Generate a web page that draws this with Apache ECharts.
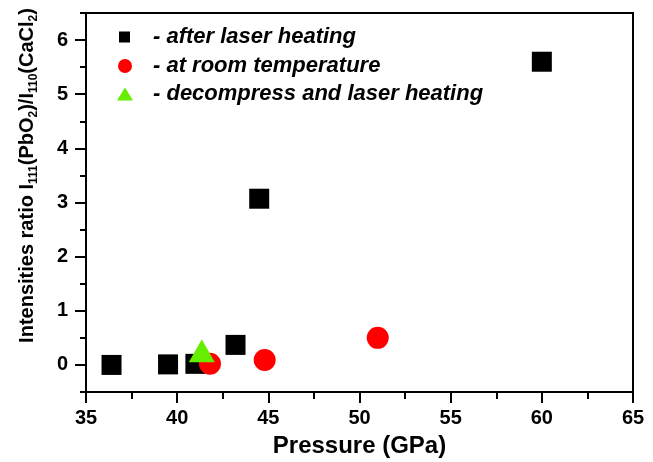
<!DOCTYPE html>
<html>
<head>
<meta charset="utf-8">
<script src="https://cdn.jsdelivr.net/npm/echarts@6/dist/echarts.min.js"></script>
<style>
  html, body { margin: 0; padding: 0; background: #fff; }
  #chart { width: 653px; height: 462px; }
</style>
</head>
<body>
<div id="chart"></div>
<script>
// data
var afterLaserP = [36.4, 39.5, 41.0, 43.2, 44.5, 60.0];
var afterLaserR = [0.0, 0.01, 0.02, 0.37, 3.07, 5.6];
var roomTempP = [41.8, 44.8, 51.0];
var roomTempR = [0.02, 0.09, 0.5];
var decompP = [41.35];
var decompR = [0.26];
var xTicks = [35, 40, 45, 50, 55, 60, 65];
var yTicks = [0, 1, 2, 3, 4, 5, 6];
var seriesNames = ['- after laser heating', '- at room temperature', '- decompress and laser heating'];

function pairs(xs, ys) {
    var out = [];
    for (var i = 0; i < xs.length; i++) out.push([xs[i], ys[i]]);
    return out;
}

var font = '"Liberation Sans", Arial, sans-serif';
var black = '#000';
var legendText = {
    fontFamily: font, fontSize: 22, fontWeight: 'bold', fontStyle: 'italic', color: black
};

// one legend per row so each icon can have its own size
function legendRow(name, icon, left, top, w, h, pad) {
    return {
        orient: 'vertical',
        left: left, top: top,
        itemWidth: w, itemHeight: h,
        textStyle: Object.assign({ padding: [0, 0, 0, pad] }, legendText),
        data: [{ name: name, icon: icon }]
    };
}

var chart = echarts.init(document.getElementById('chart'));

chart.setOption({
    animation: false,
    backgroundColor: '#fff',
    grid: {
        left: 86, right: 20, top: 13, bottom: 70,
        outerBoundsMode: 'none',
        show: true, borderColor: black, borderWidth: 2
    },
    legend: [
        legendRow(seriesNames[0], 'rect', 114, 21, 11, 11, 18),
        legendRow(seriesNames[1], 'circle', 113, 50, 14, 14, 16),
        legendRow(seriesNames[2], 'triangle', 112, 78, 16, 13, 15)
    ],
    xAxis: {
        type: 'value',
        min: 35, max: 65, interval: 5,
        name: 'Pressure (GPa)',
        nameLocation: 'middle',
        nameGap: 42,
        nameTextStyle: { fontFamily: font, fontSize: 24, fontWeight: 'bold', color: black },
        axisLine: { onZero: false, lineStyle: { color: black, width: 2 } },
        axisTick: { show: true, length: 11, inside: false, lineStyle: { color: black, width: 2 } },
        minorTick: { show: true, splitNumber: 2, length: 7, lineStyle: { color: black, width: 2 } },
        axisLabel: {
            margin: 16,
            fontFamily: font, fontSize: 20, fontWeight: 'bold', color: black,
            customValues: xTicks
        },
        splitLine: { show: false }
    },
    yAxis: [
        {
            type: 'value',
            min: -0.5, max: 6.5, interval: 0.5,
            name: '{t|Intensities ratio I}{s|111}{t|(PbO}{s|2}{t|)/I}{s|110}{t|(CaCl}{s|2}{t|)}',
            nameLocation: 'middle',
            nameGap: 46,
            nameTextStyle: {
                padding: [0, 0, 0, 54],
                rich: {
                    t: { fontFamily: font, fontSize: 20, fontWeight: 'bold', color: black, lineHeight: 26, verticalAlign: 'middle' },
                    s: { fontFamily: font, fontSize: 12, fontWeight: 'bold', color: black, lineHeight: 12, verticalAlign: 'bottom' }
                }
            },
            axisLine: { onZero: false, lineStyle: { color: black, width: 2 } },
            axisTick: { show: true, length: 6, lineStyle: { color: black, width: 2 } },
            axisLabel: {
                margin: 18,
                fontFamily: font, fontSize: 20, fontWeight: 'bold', color: black,
                customValues: yTicks
            },
            splitLine: { show: false }
        },
        {
            // longer ticks on the whole numbers
            type: 'value',
            position: 'left',
            min: -0.5, max: 6.5, interval: 0.5,
            axisLine: { show: false },
            axisTick: { show: true, length: 11, customValues: yTicks, lineStyle: { color: black, width: 2 } },
            axisLabel: { show: false },
            splitLine: { show: false }
        }
    ],
    series: [
        {
            name: seriesNames[0],
            type: 'scatter',
            symbol: 'rect',
            symbolSize: 20,
            itemStyle: { color: black, opacity: 1 },
            data: pairs(afterLaserP, afterLaserR),
            z: 2
        },
        {
            name: seriesNames[1],
            type: 'scatter',
            symbol: 'circle',
            symbolSize: 22,
            itemStyle: { color: '#ff0000', opacity: 1 },
            data: pairs(roomTempP, roomTempR),
            z: 3
        },
        {
            name: seriesNames[2],
            type: 'scatter',
            symbol: 'triangle',
            symbolSize: [26, 23],
            itemStyle: { color: '#66ee00', opacity: 1 },
            data: pairs(decompP, decompR),
            z: 4
        }
    ]
});
</script>
</body>
</html>
